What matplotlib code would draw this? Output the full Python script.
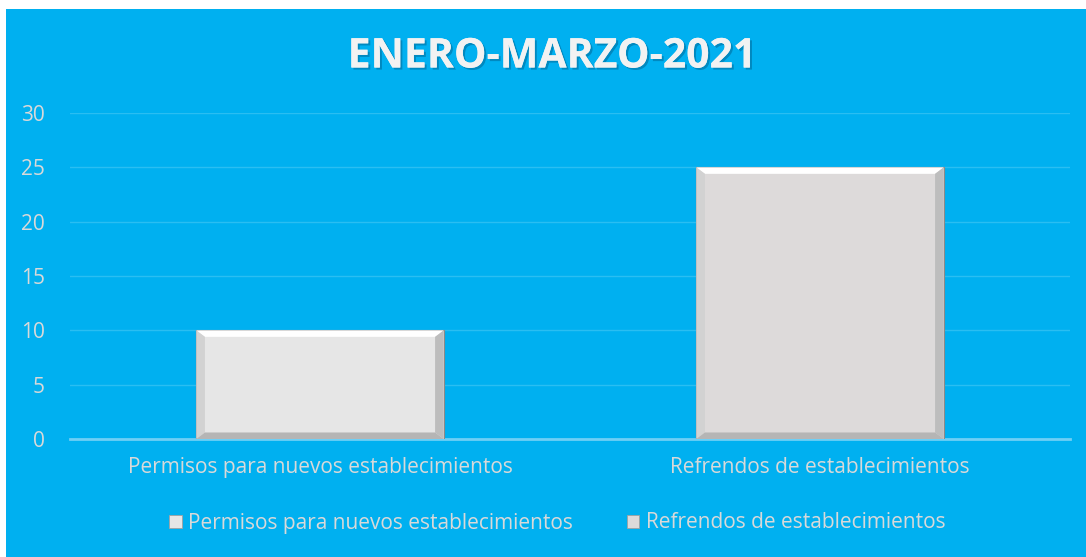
import matplotlib.pyplot as plt
import matplotlib.patheffects as pe
from matplotlib.patches import Rectangle, Polygon

categorias = ['Permisos para nuevos establecimientos', 'Refrendos de establecimientos']
valores = [10, 25]
colores = ['#E6E6E6', '#DDDADA']
yticks = [0, 5, 10, 15, 20, 25, 30]

azul = '#00B0F0'
gris_txt = '#D9D9D9'

fig = plt.figure(figsize=(10.86, 5.57), dpi=100)
fig.patch.set_facecolor('white')
# fondo azul del grafico (borde blanco arriba e izquierda)
fig.patches.append(Rectangle((6 / 1086, 0), 1, 1 - 9 / 557, transform=fig.transFigure,
                             facecolor=azul, edgecolor='none', zorder=-5))

ax = fig.add_axes([70 / 1086, 118 / 557, 1000 / 1086, 326 / 557])
ax.set_facecolor('none')
ax.set_zorder(2)

x = list(range(len(categorias)))
bars = ax.bar(x, valores, width=0.495, color=colores, edgecolor='#8A8A8A', linewidth=0.8, zorder=3)

# efecto biselado simple
for b in bars:
    x0, y0, w, h = b.get_x(), b.get_y(), b.get_width(), b.get_height()
    dx, dy = w * 0.035, 0.6
    ax.add_patch(Polygon([(x0, y0 + h), (x0 + w, y0 + h), (x0 + w - dx, y0 + h - dy), (x0 + dx, y0 + h - dy)],
                         closed=True, facecolor='white', edgecolor='none', zorder=4))
    ax.add_patch(Polygon([(x0, y0), (x0, y0 + h), (x0 + dx, y0 + h - dy), (x0 + dx, y0 + dy)],
                         closed=True, facecolor='#D2D2D2', edgecolor='none', zorder=4))
    ax.add_patch(Polygon([(x0 + w, y0), (x0 + w, y0 + h), (x0 + w - dx, y0 + h - dy), (x0 + w - dx, y0 + dy)],
                         closed=True, facecolor='#BDBDBD', edgecolor='none', zorder=4))
    ax.add_patch(Polygon([(x0, y0), (x0 + w, y0), (x0 + w - dx, y0 + dy), (x0 + dx, y0 + dy)],
                         closed=True, facecolor='#B5B5B5', edgecolor='none', zorder=4))

ax.set_xlim(-0.5, len(categorias) - 0.5)
ax.set_ylim(0, 30)
ax.set_yticks(yticks)
ax.set_xticks(x)
ax.set_xticklabels(categorias)
ax.tick_params(axis='both', length=0, colors=gris_txt, labelsize=15)
ax.tick_params(axis='y', pad=18)
ax.tick_params(axis='x', pad=13)
for lbl in ax.get_xticklabels() + ax.get_yticklabels():
    lbl.set_fontfamily('Open Sans')

ax.grid(axis='y', color='#2ABEF2', linewidth=1, zorder=1)
for s in ['top', 'right', 'left']:
    ax.spines[s].set_visible(False)
ax.spines['bottom'].set_color('#6FCFF5')
ax.spines['bottom'].set_linewidth(2)

fig.text(552 / 1086, 1 - 57 / 557, 'ENERO-MARZO-2021', ha='center', va='center', color='#F2F2F2',
         fontsize=29.5, fontweight='bold', family='Open Sans',
         path_effects=[pe.withSimplePatchShadow(offset=(1.5, -1.5), shadow_rgbFace='#0070A0', alpha=0.6), pe.Normal()])

handles = [Rectangle((0, 0), 1, 1, facecolor=c, edgecolor='#A0A0A0', linewidth=0.6) for c in colores]
fig.legend(handles, categorias, loc='center', bbox_to_anchor=(0.513, 1 - 523 / 557), ncol=2, frameon=False,
           prop={'family': 'Open Sans', 'size': 15}, labelcolor=gris_txt, handlelength=0.6, handleheight=0.6,
           handletextpad=0.3, columnspacing=2.6)

fig.savefig('out.png', dpi=100, facecolor=fig.get_facecolor())
